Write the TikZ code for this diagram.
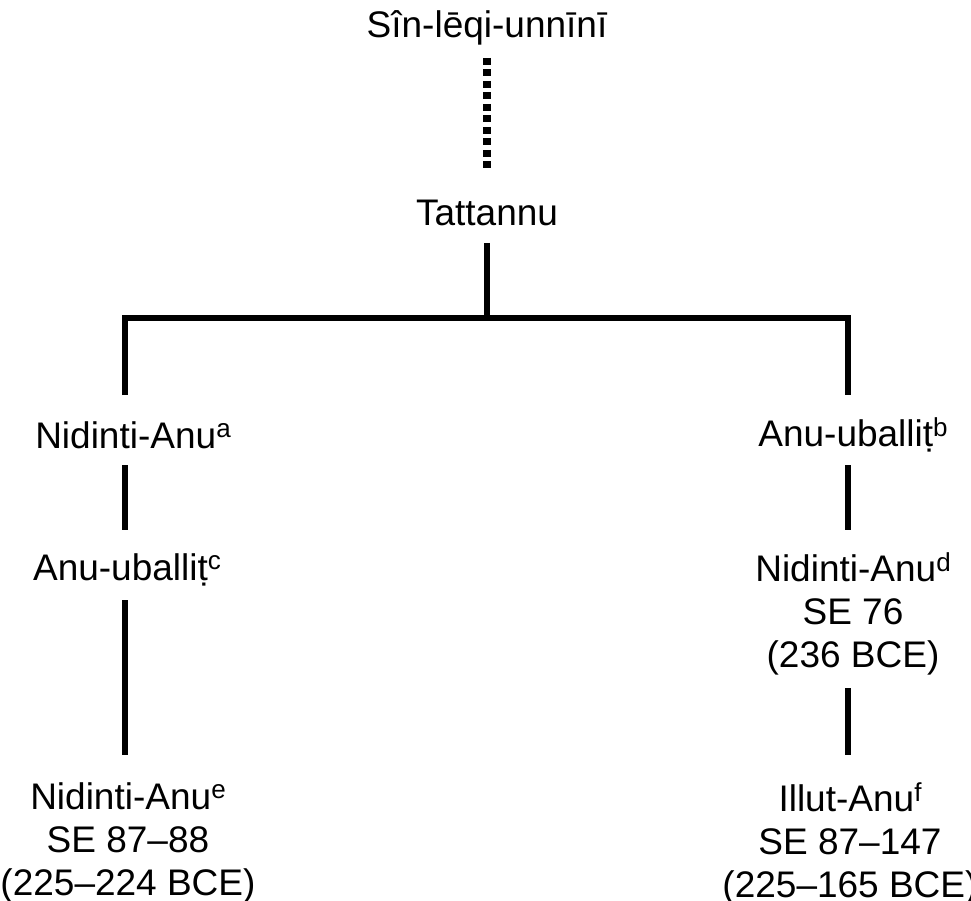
\documentclass[tikz,border=0pt]{standalone}
\usepackage{fontspec}
\setmainfont{Liberation Sans}
\newcommand{\supx}[1]{\raisebox{0.55ex}{\fontsize{26}{26}\selectfont #1}}
\begin{document}
\begin{tikzpicture}[x=1pt,y=-1pt,
  lbl/.style={align=center,inner sep=0pt,font=\fontsize{37}{43}\selectfont},
  ln/.style={line width=6pt}]
\useasboundingbox (0,0) rectangle (971,901);
\node[lbl] (s) at (487,28) {Sîn-lēqi-unnīnī};
\node[lbl] (t) at (487,213) {Tattannu};
\node[lbl] (na) at (133,435) {Nidinti-Anu\supx{a}};
\node[lbl] (ub) at (853,435) {Anu-uballiṭ\supx{b}};
\node[lbl] (uc) at (127,570) {Anu-uballiṭ\supx{c}};
\node[lbl,anchor=north] (nd) at (853,552) {Nidinti-Anu\supx{d}\\SE 76\\(236 BCE)};
\node[lbl,anchor=north] (ne) at (128,782) {Nidinti-Anu\supx{e}\\SE 87--88\\(225--224 BCE)};
\node[lbl,anchor=north] (if) at (850,782) {Illut-Anu\supx{f}\\SE 87--147\\(225--165 BCE)};
\coordinate (m) at (487,318);
\coordinate (l) at (125,318);
\coordinate (r) at (848,318);
\draw[line width=8pt,dash pattern=on 7pt off 4.5pt] (487,58) -- (487,172);
\draw[ln] (487,243) -- (m);
\draw[ln] (125,395) -- (l) -- (r) -- (848,395);
\draw[ln] (125,465) -- (125,530);
\draw[ln] (848,465) -- (848,530);
\draw[ln] (125,600) -- (125,755);
\draw[ln] (848,688) -- (848,755);
\end{tikzpicture}
\end{document}
